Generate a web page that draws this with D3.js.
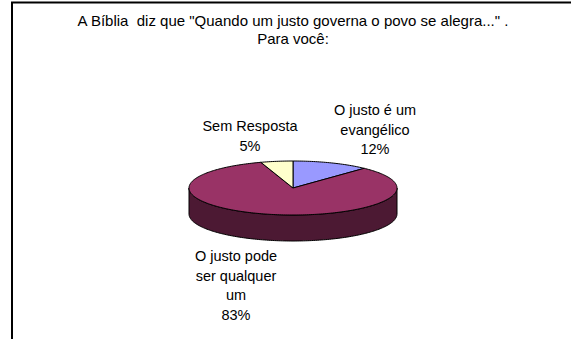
<!DOCTYPE html>
<html>
<head>
<meta charset="utf-8">
<script src="https://cdn.jsdelivr.net/npm/d3@7"></script>
<style>
  html, body { margin: 0; padding: 0; background: #fff; }
  svg { display: block; }
  text { font-family: "Liberation Sans", Arial, sans-serif; font-size: 14.5px; fill: #000; }
  .title { font-size: 15px; }
</style>
</head>
<body>
<svg id="chart" width="571" height="339"></svg>
<script>
// Survey answers (percent)
const categories = ["O justo é um evangélico", "O justo pode ser qualquer um", "Sem Resposta"];
const values = [12, 83, 5];
const colors = ["#9999FF", "#993366", "#FFFFCC"];
const sideColors = ["#4C4C80", "#4C1933", "#80804C"];
const labelLines = [
  ["O justo é um", "evangélico", "12%"],
  ["O justo pode", "ser qualquer", "um", "83%"],
  ["Sem Resposta", "5%"]
];
const titleLines = ['A Bíblia  diz que "Quando um justo governa o povo se alegra..." .', "Para você:"];

const svg = d3.select("#chart");

// chart frame
svg.append("rect")
  .attr("x", 12).attr("y", 2.5)
  .attr("width", 600).attr("height", 400)
  .attr("fill", "#fff").attr("stroke", "#000").attr("stroke-width", 2);

// title
svg.append("g").selectAll("text").data(titleLines).join("text")
  .attr("class", "title")
  .attr("x", 293).attr("y", (d, i) => 26 + i * 17.5)
  .attr("text-anchor", "middle")
  .attr("xml:space", "preserve")
  .style("white-space", "pre")
  .text(d => d);

// 3D pie geometry
const cx = 293, cy = 188, rx = 104, ry = 27, depth = 26;
const pie = d3.pie().sort(null).value(d => d).startAngle(0).endAngle(2 * Math.PI);
const arcs = pie(values);

const px = a => cx + rx * Math.sin(a);
const py = a => cy - ry * Math.cos(a);

function arcPoints(a0, a1, dy) {
  const n = Math.max(2, Math.ceil((a1 - a0) / 0.02));
  return d3.range(n + 1).map(i => {
    const a = a0 + (a1 - a0) * i / n;
    return [px(a), py(a) + dy];
  });
}

const line = d3.line();

// side walls: only the front half (angles between PI/2 and 3PI/2) is visible
const sides = svg.append("g");
arcs.forEach((d, i) => {
  const a0 = Math.max(d.startAngle, Math.PI / 2);
  const a1 = Math.min(d.endAngle, 3 * Math.PI / 2);
  if (a1 <= a0) return;
  const top = arcPoints(a0, a1, 0);
  const bottom = arcPoints(a0, a1, depth).reverse();
  sides.append("path")
    .attr("d", line(top.concat(bottom)) + "Z")
    .attr("fill", sideColors[i])
    .attr("stroke", "#000").attr("stroke-width", 1)
    .attr("stroke-linejoin", "round");
});

// top faces
const tops = svg.append("g");
arcs.forEach((d, i) => {
  const pts = [[cx, cy]].concat(arcPoints(d.startAngle, d.endAngle, 0));
  tops.append("path")
    .attr("d", line(pts) + "Z")
    .attr("fill", colors[i])
    .attr("stroke", "#000").attr("stroke-width", 1)
    .attr("stroke-linejoin", "round");
});

// data labels
const labelPos = [
  { x: 375, y: 115 },
  { x: 236, y: 261 },
  { x: 250, y: 131 }
];
const labels = svg.append("g");
labelLines.forEach((lines, i) => {
  labels.append("g").selectAll("text").data(lines).join("text")
    .attr("x", labelPos[i].x)
    .attr("y", (d, j) => labelPos[i].y + j * 19.5)
    .attr("text-anchor", "middle")
    .text(d => d);
});
</script>
</body>
</html>
